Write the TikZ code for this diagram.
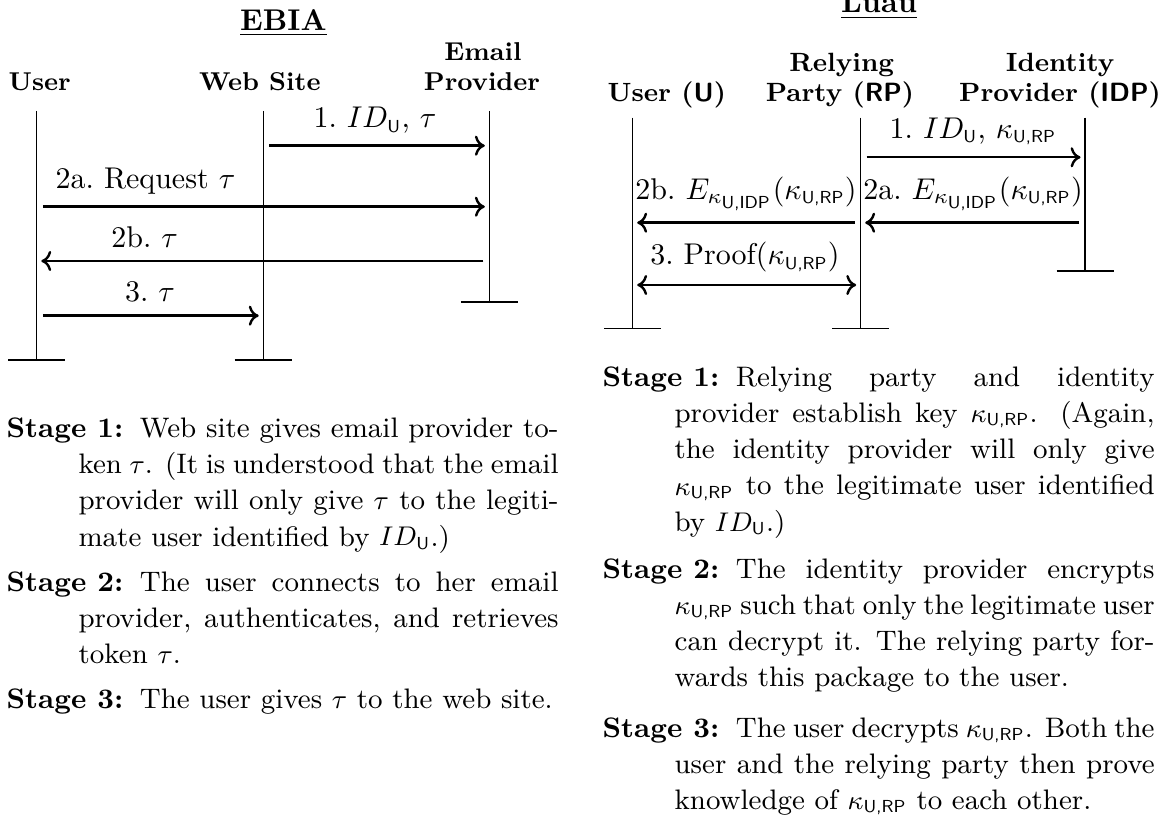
\documentclass[tikz,border=0pt]{standalone}
\usetikzlibrary{arrows.meta}
\newcommand\ssub[1]{\mbox{\fontsize{5.8}{7}\selectfont\sffamily #1}}
\newcommand\kRP{\kappa_{\ssub{U,RP}}}
\newcommand\kIDP{\kappa_{\ssub{U,IDP}}}
\newcommand\IDU{ID_{\ssub{U}}}
\newcommand\stg[1]{\hangindent=24pt\hangafter=1\emergencystretch=4pt\mbox{\textbf{Stage #1:}}\hspace{5.5pt}}
\begin{document}
\begin{tikzpicture}[x=0.333333pt,y=-0.333333pt,
  life/.style={line width=0.4pt},
  tip/.tip={To[length=3.3pt,width=6.7pt]},
  arr/.style={line width=0.8pt,-tip,shorten <=2pt,shorten >=1.5pt},
  darr/.style={line width=0.8pt,tip-tip,shorten <=1.5pt,shorten >=1.5pt},
  ttl/.style={anchor=base,inner sep=0pt,font=\fontsize{10}{12}\selectfont\bfseries},
  hdl/.style={anchor=base,inner sep=0pt,font=\fontsize{8.6}{10}\selectfont\bfseries},
  hdr/.style={anchor=base,inner sep=0pt,font=\fontsize{8.8}{10}\selectfont\bfseries},
  lbl/.style={anchor=base,inner sep=0pt,font=\fontsize{10}{12}\selectfont},
  stage/.style={anchor=base west,inner sep=0pt,text width=184pt,align=justify,
    font=\fontsize{9.4}{12}\selectfont},
]
\useasboundingbox (0,0) rectangle (1164,818);

% ---------------- EBIA ----------------
\node[ttl] (tE) at (283.4,30.5) {\underline{EBIA}};
\node[hdl] (hU) at (39.6,91) {User};
\node[hdl] (hW) at (259.8,91) {Web Site};
\node[hdl] (hE1) at (483,61) {Email};
\node[hdl] (hE2) at (482,91) {Provider};

\coordinate (uT) at (36.8,111);  \coordinate (uB) at (36.8,360);
\coordinate (wT) at (263.2,111); \coordinate (wB) at (263.2,360);
\coordinate (eT) at (489.3,111); \coordinate (eB) at (489.3,302);
\draw[life] (uT) -- (uB);
\draw[life] (wT) -- (wB);
\draw[life] (eT) -- (eB);
\draw[life] (uB) ++(-28.5,0) -- ++(57,0);
\draw[life] (wB) ++(-28.5,0) -- ++(57,0);
\draw[life] (eB) ++(-28.5,0) -- ++(57,0);

\coordinate (w1) at (263.2,145.7); \coordinate (e1) at (489.3,145.7);
\coordinate (u2) at (36.8,206.7);  \coordinate (e2) at (489.3,206.7);
\coordinate (e3) at (489.3,261);   \coordinate (u3) at (36.8,261);
\coordinate (u4) at (36.8,315.7);  \coordinate (w4) at (263.2,315.7);
\draw[arr] (w1) -- (e1);
\draw[arr] (u2) -- (e2);
\draw[arr] (e3) -- (u3);
\draw[arr] (u4) -- (w4);
\node[lbl] (l1) at (375,128) {1.\ $\IDU$, $\tau$};
\node[lbl] (l2a) at (145.5,188.3) {2a.\ Request $\tau$};
\node[lbl] (l2b) at (144.6,248) {2b.\ $\tau$};
\node[lbl] (l3) at (150,301.7) {3.\ $\tau$};

% ---------------- Luau ----------------
\node[ttl] (tL) at (879,12.8) {\underline{Luau}};
\node[hdr] (hUR) at (666.7,102) {User (\textsf{U})};
\node[hdr] (hR1) at (841.7,71.7) {Relying};
\node[hdr] (hR2) at (840,102) {Party (\textsf{RP})};
\node[hdr] (hI1) at (1060,71.7) {Identity};
\node[hdr] (hI2) at (1060,102) {Provider (\textsf{IDP})};

\coordinate (UT) at (632.7,117.7); \coordinate (UB) at (632.7,328.3);
\coordinate (RT) at (860.7,117.7); \coordinate (RB) at (860.7,328.3);
\coordinate (IT) at (1085,117.7);  \coordinate (IB) at (1085,271);
\draw[life] (UT) -- (UB);
\draw[life] (RT) -- (RB);
\draw[life] (IT) -- (IB);
\draw[life] (UB) ++(-28.5,0) -- ++(57,0);
\draw[life] (RB) ++(-28.5,0) -- ++(57,0);
\draw[life] (IB) ++(-28.5,0) -- ++(57,0);

\coordinate (R1) at (860.7,157.3); \coordinate (I1) at (1085,157.3);
\coordinate (I2) at (1085,222.7);  \coordinate (R2) at (860.7,222.7);
\coordinate (U2) at (632.7,222.7);
\coordinate (U3) at (632.7,285);   \coordinate (R3) at (860.7,285);
\draw[arr] (R1) -- (I1);
\draw[arr] (I2) -- (R2);
\draw[arr] (R2) -- (U2);
\draw[darr] (U3) -- (R3);
\node[lbl] (r1) at (973,138.3) {1.\ $\IDU$, $\kRP$};
\node[lbl] (r2a) at (973,199.3) {2a.\ $E_{\kIDP}(\kRP)$};
\node[lbl] (r2b) at (746,199.3) {2b.\ $E_{\kIDP}(\kRP)$};
\node[lbl] (r3) at (745,265) {3.\ Proof$(\kRP)$};

% ---------------- descriptions ----------------
\node[stage] (sL1) at (6,438) {\stg{1}Web site gives email provider to-\linebreak ken $\tau$. (It is understood that the email\linebreak provider will only give $\tau$ to the legiti-\linebreak mate user identified by $\IDU$.)\par};
\node[stage] (sL2) at (6,591) {\stg{2}The user connects to her email\linebreak provider, authenticates, and retrieves\linebreak token $\tau$.\par};
\node[stage] (sL3) at (6,708) {\stg{3}The user gives $\tau$ to the web site.\par};

\node[stage] (sR1) at (602,387) {\stg{1}Relying party and identity\linebreak provider establish key $\kRP$. (Again,\linebreak the identity provider will only give\linebreak $\kRP$ to the legitimate user identified\linebreak by $\IDU$.)\par};
\node[stage] (sR2) at (602,578) {\stg{2}The identity provider encrypts\linebreak $\kRP$ such that only the legitimate user\linebreak can decrypt it. The relying party for-\linebreak wards this package to the user.\par};
\node[stage] (sR3) at (602,737) {\stg{3}The user decrypts $\kRP$. Both the\linebreak user and the relying party then prove\linebreak knowledge of $\kRP$ to each other.\par};
\end{tikzpicture}
\end{document}
